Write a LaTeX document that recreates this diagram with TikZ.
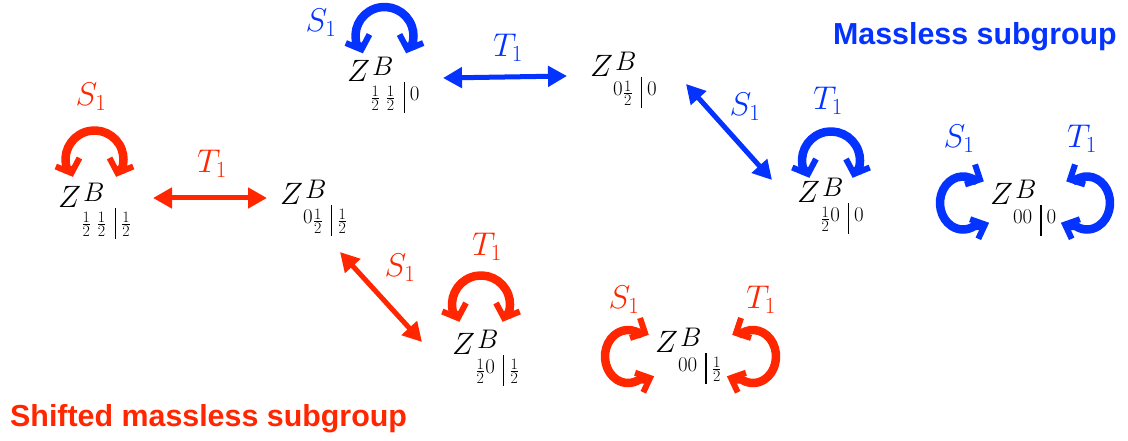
\RequirePackage{fix-cm}
\documentclass[tikz,border=0pt]{standalone}
\usepackage{fontspec}
\newfontfamily\titlefont{Liberation Sans}
\usetikzlibrary{arrows.meta,calc}
\definecolor{blueA}{HTML}{0433FF}
\definecolor{redA}{HTML}{FF2600}
% Z^B with a subscript set by hand
\newcommand\zz[1]{$Z$\kern2bp\rlap{\raisebox{6bp}{\fontsize{27}{32}\selectfont$B$}}\kern-2bp\raisebox{-19bp}{\fontsize{21}{25}\selectfont #1}}
\newcommand\hf{\kern1.5bp\raisebox{-9.5bp}{\fontsize{16}{19}\selectfont\vbox{\hbox{1}\kern1.3bp\hrule height 0.6bp\kern1.3bp\hbox{2}}}\kern1.5bp}
\newcommand\vb{\kern8bp\vrule height 19bp depth 12bp width 1.2bp\kern5bp}
\tikzset{
  zlab/.style={inner sep=0pt, anchor=base west, font=\fontsize{31}{37}\selectfont},
  lab/.style={inner sep=0pt, font=\fontsize{33}{39}\selectfont},
  ttl/.style={inner sep=0pt, font=\titlefont\bfseries\fontsize{30.5}{36}\selectfont},
  dbl/.style={line width=5bp, {Triangle[length=19bp,width=20bp]}-{Triangle[length=19bp,width=20bp]}},
  body/.style={line width=8.5bp},
  vtip/.style={line width=6bp, miter limit=6},
  toploop/.pic={
    \draw[body] (-22.5,-11) -- (-27.25,-9.92) arc[start angle=200,end angle=-20,radius=29] -- (22.5,-11);
    \draw[vtip] (-38.72,-7.02) -- (-23,-13.5) -- (-15.02,1.51);
    \draw[vtip] (38.72,-7.02) -- (23,-13.5) -- (15.02,1.51);
  },
  sidecurl/.pic={
    \draw[body] (14.3,24.8) -- (11.5,22.95) arc[start angle=60,end angle=300,x radius=23,y radius=26.5] -- (19.2,-22.7);
    \draw[vtip] (12.0,38.5) -- (17,23.5) -- (2.0,18.5);
    \draw[vtip] (7.1,-16.25) -- (22,-21.5) -- (15.3,-35.8);
  },
}
\begin{document}
\begin{tikzpicture}[x=1bp,y=1bp]
\useasboundingbox (0,0) rectangle (1128,-441);
% nodes
\node[zlab] (n1) at (347,-82) {\zz{\hf\kern5bp\hf\vb 0}};
\node[zlab] (n2) at (590,-77) {\zz{0\hf\vb 0}};
\node[zlab] (n3) at (797,-203) {\zz{\hf 0\vb 0}};
\node[zlab] (n4) at (990,-205) {\zz{00\vb 0}};
\node[zlab] (n5) at (58,-208) {\zz{\hf\kern5bp\hf\vb\hf}};
\node[zlab] (n6) at (280,-205) {\zz{0\hf\vb\hf}};
\node[zlab] (n7) at (452,-355) {\zz{\hf 0\vb\hf}};
\node[zlab] (n8) at (655,-353) {\zz{00\vb\hf}};
% straight double arrows
\draw[dbl,blueA] ([shift={(96,4)}]n1.base west) -- ([shift={(-23,1)}]n2.base west);
\draw[dbl,redA] ([shift={(95,10)}]n5.base west) -- ([shift={(-13,7)}]n6.base west);
\draw[dbl,blueA] ([shift={(96,-7)}]n2.base west) -- ([shift={(-25,23)}]n3.base west);
\draw[dbl,redA] ([shift={(60,-47)}]n6.base west) -- ([shift={(-30,13)}]n7.base west);
% loops above nodes
\pic[blueA] at ($(n1.base west)+(37.5,46)$) {toploop};
\pic[redA] at ($(n5.base west)+(36.5,48.5)$) {toploop};
\pic[blueA] at ($(n3.base west)+(34,42.5)$) {toploop};
\pic[redA] at ($(n7.base west)+(29,50.5)$) {toploop};
% loops beside nodes
\pic[redA] at ($(n8.base west)+(-27,-3.5)$) {sidecurl};
\pic[redA,xscale=-1] at ($(n8.base west)+(98,-3.5)$) {sidecurl};
\pic[blueA] at ($(n4.base west)+(-27,2)$) {sidecurl};
\pic[blueA,xscale=-1] at ($(n4.base west)+(97,2)$) {sidecurl};
% labels
\node[lab,blueA] (la1) at (321,-23) {$S_1$};
\node[lab,blueA] (la2) at (508,-48) {$T_1$};
\node[lab,blueA] (la3) at (745,-107) {$S_1$};
\node[lab,blueA] (la4) at (828,-101) {$T_1$};
\node[lab,blueA] (la5) at (959,-139) {$S_1$};
\node[lab,blueA] (la6) at (1082,-139) {$T_1$};
\node[lab,redA] (lb1) at (91,-97) {$S_1$};
\node[lab,redA] (lb2) at (212,-164) {$T_1$};
\node[lab,redA] (lb3) at (400,-268) {$S_1$};
\node[lab,redA] (lb4) at (487,-247) {$T_1$};
\node[lab,redA] (lb5) at (624,-300) {$S_1$};
\node[lab,redA] (lb6) at (761,-300) {$T_1$};
% titles
\node[ttl,blueA,anchor=base east] (t1) at (1117,-45) {Massless subgroup};
\node[ttl,redA,anchor=base west] (t2) at (10,-427) {Shifted massless subgroup};
\end{tikzpicture}
\end{document}
